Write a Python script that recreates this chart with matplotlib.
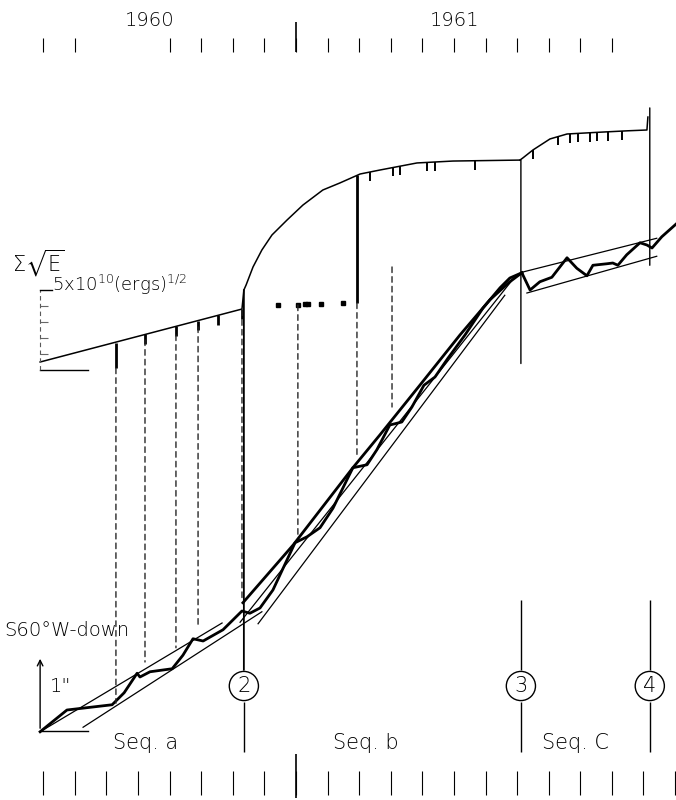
import numpy as np
import matplotlib.pyplot as plt
from matplotlib.patches import ConnectionPatch

# time axis: months counted from 1 Jan 1960
# energy axis: cumulative sqrt(E) in units of 1e10 (ergs)^1/2
# tilt axis: S60W-down tilt in seconds of arc

energy_ab_t = [3.90, 10.29, 10.35, 10.42, 10.64, 10.92, 11.24, 11.72, 12.22,
               12.85, 13.39, 14.03, 14.66, 15.83, 16.97, 19.09]
energy_ab_e = [0.50, 3.81, 5.00, 5.31, 6.44, 7.50, 8.44, 9.38, 10.31,
               11.25, 11.69, 12.25, 12.50, 12.94, 13.06, 13.12]

energy_c_t = [19.09, 19.18, 19.50, 20.04, 20.58, 21.50, 22.50, 23.11, 23.14]
energy_c_e = [13.12, 13.25, 13.75, 14.44, 14.75, 14.85, 14.95, 15.00, 15.81]

# small event marks hanging under the energy curve
events_a_t = [7.22, 8.20, 8.90, 9.53, 10.29]
events_bc_t = [14.34, 15.07, 15.29, 16.15, 16.40, 17.66,
               19.50, 20.29, 20.67, 20.92, 21.30, 21.53, 21.87, 22.32]

# big single event in seq a and seq b
big_a_t, big_a_e = 6.30, [0.12, 1.69]
big_b_t, big_b_e = 13.93, [4.19, 12.19]

# scattered events of seq b plotted at low level
dots_b_t = [11.43, 12.06, 12.28, 12.38, 12.79, 13.49]
dots_b_e = [4.06, 4.06, 4.10, 4.10, 4.12, 4.18]

# tilt record
tilt_ab_t = [3.90, 4.75, 6.18, 6.56, 6.97, 7.06, 7.38, 8.08, 8.42, 8.74, 9.06,
             9.69, 10.29, 10.54, 10.86, 11.27, 11.97, 12.35, 12.76, 13.17,
             13.80, 14.25, 14.56, 14.97, 15.35, 15.67, 16.05, 16.40, 16.81,
             17.35, 17.92, 18.46, 18.77, 19.15]
tilt_ab_v = [-0.01, 0.28, 0.35, 0.51, 0.77, 0.72, 0.79, 0.83, 1.01, 1.23, 1.20,
             1.35, 1.60, 1.57, 1.64, 1.88, 2.51, 2.59, 2.71, 2.97,
             3.51, 3.55, 3.75, 4.08, 4.12, 4.32, 4.61, 4.72, 4.97,
             5.28, 5.64, 5.91, 6.04, 6.11]

tilt_c_t = [19.15, 19.41, 19.72, 20.10, 20.58, 20.89, 21.21, 21.40, 21.84,
            22.03, 22.19, 22.47, 22.89, 23.11, 23.27, 23.58, 24.06]
tilt_c_v = [6.11, 5.88, 5.99, 6.05, 6.31, 6.17, 6.07, 6.21, 6.23,
            6.24, 6.21, 6.35, 6.51, 6.48, 6.44, 6.59, 6.77]

smooth_b_t = [10.32, 11.91, 13.80, 14.66, 15.92, 17.19, 18.14, 18.77, 19.15]
smooth_b_v = [1.71, 2.48, 3.51, 3.95, 4.61, 5.28, 5.75, 5.99, 6.11]

# fitted straight trends (start, end)
trend_t = [(3.90, 9.66), (5.26, 10.92), (10.23, 18.84), (10.80, 18.61),
           (19.18, 23.42), (19.31, 23.42)]
trend_v = [(-0.01, 1.44), (0.05, 1.59), (1.45, 6.01), (1.43, 5.81),
           (6.12, 6.57), (5.84, 6.33)]

# dashed links energy event -> tilt
link_t = [6.30, 7.22, 8.20, 8.90, 10.29, 12.06, 13.93, 15.04]
link_e = [0.12, 1.88, 2.19, 2.69, 3.75, 4.06, 4.19, 6.44]
link_v = [0.37, 0.92, 1.11, 1.39, 1.75, 2.59, 3.65, 4.32]

# sequence boundaries
marker_t = [10.35, 19.12, 23.20]
marker_lbl = ["2", "3", "4"]
seq_t = [7.25, 14.20, 20.85]
seq_lbl = ["Seq. a", "Seq. b", "Seq. C"]

month_ticks = list(range(4, 25))
top_ticks = [4, 5, 8, 9, 10, 11, 12, 13, 14, 15, 16, 17, 18, 19, 20, 21, 22]
year_t = [7.38, 17.03]
year_lbl = ["1960", "1961"]

plt.rcParams["font.family"] = "DejaVu Sans"
plt.rcParams["font.weight"] = "light"
plt.rcParams["mathtext.default"] = "regular"
fig = plt.figure(figsize=(6.76, 8), dpi=100)
ax = fig.add_axes([0, 0, 1, 1])
axt = ax.twinx()
for a in (ax, axt):
    a.set_xlim(2.63, 24.03)
    a.axis("off")
ax.set_ylim(-26.875, 23.125)
axt.set_ylim(-0.92, 9.747)
xt = ax.get_xaxis_transform()


def link(t, y0, tr0, y1, tr1, **kw):
    con = ConnectionPatch(xyA=(t, y0), coordsA=tr0, xyB=(t, y1), coordsB=tr1,
                          arrowstyle="-", shrinkA=0, shrinkB=0, **kw)
    fig.add_artist(con)


# energy curves
ax.plot(energy_ab_t, energy_ab_e, color="k", lw=1.1)
ax.plot(energy_c_t, energy_c_e, color="k", lw=1.1)
for t in events_a_t:
    e = np.interp(t, energy_ab_t, energy_ab_e)
    ax.vlines(t, e - 0.6, e, color="k", lw=2)
for t in events_bc_t:
    if t < energy_c_t[0]:
        e = np.interp(t, energy_ab_t, energy_ab_e)
    else:
        e = np.interp(t, energy_c_t, energy_c_e)
    ax.vlines(t, e - 0.55, e, color="k", lw=1.4)
ax.vlines(big_a_t, *big_a_e, color="k", lw=2)
ax.vlines(big_b_t, *big_b_e, color="k", lw=2)
ax.plot(dots_b_t, dots_b_e, "s", color="k", ms=2.2)

# energy scale bar
ax.plot([3.90, 5.42], [0, 0], color="k", lw=1)
ax.plot([3.90, 3.90], [0, 5], color="0.35", lw=0.8, ls=(0, (4, 3)))
ax.plot([3.90, 4.28], [5, 5], color="k", lw=1)
ax.hlines([1, 2, 3, 4], 3.90, 4.15, color="0.4", lw=0.8)

# tilt records
axt.plot(tilt_ab_t, tilt_ab_v, color="k", lw=2)
axt.plot(tilt_c_t, tilt_c_v, color="k", lw=2)
axt.plot(smooth_b_t, smooth_b_v, color="k", lw=2)
for (t0, t1), (v0, v1) in zip(trend_t, trend_v):
    axt.plot([t0, t1], [v0, v1], color="k", lw=0.9)

# tilt scale
axt.annotate("", xy=(3.90, 1.0), xytext=(3.90, 0),
             arrowprops=dict(arrowstyle="->", lw=1, color="k"))
axt.plot([3.90, 5.42], [0, 0], color="k", lw=1)

# links
for t, e, v in zip(link_t, link_e, link_v):
    link(t, e, ax.transData, v, axt.transData, color="0.15", lw=1.0,
         linestyle=(0, (4, 3)))

# boundary markers
link(marker_t[0], 5.0, ax.transData, 0.1625, xt, color="k", lw=1.3)
link(marker_t[1], 13.12, ax.transData, 4.9, axt.transData, color="k", lw=1)
link(marker_t[2], 16.38, ax.transData, 6.21, axt.transData, color="k", lw=1)
ax.vlines(marker_t[1:], 0.25, 0.1625, transform=xt, color="k", lw=1)
ax.vlines(marker_t, 0.1225, 0.06, transform=xt, color="k", lw=1)
for t, s in zip(marker_t, marker_lbl):
    ax.text(t, 0.1425, s, transform=xt, ha="center", va="center", fontsize=15,
            bbox=dict(boxstyle="circle,pad=0.22", fc="white", ec="k", lw=1))
for t, s in zip(seq_t, seq_lbl):
    ax.text(t, 0.071, s, transform=xt, ha="center", va="center", fontsize=15)

# time scales
ax.vlines(month_ticks, 0.006, 0.036, transform=xt, color="k", lw=0.8)
ax.vlines(12, 0.003, 0.058, transform=xt, color="k", lw=1.2)
ax.vlines(top_ticks, 0.935, 0.953, transform=xt, color="k", lw=0.8)
ax.vlines(12, 0.935, 0.973, transform=xt, color="k", lw=1.2)
for t, s in zip(year_t, year_lbl):
    ax.text(t, 0.975, s, transform=xt, ha="center", va="center", fontsize=14)

# labels
fig.text(12 / 676, 1 - 263 / 800, r"$\Sigma\sqrt{E}$", fontsize=15, va="center")
fig.text(52 / 676, 1 - 285 / 800, r"5x10$^{10}$(ergs)$^{1/2}$", fontsize=13,
         va="center")
fig.text(4 / 676, 1 - 630 / 800, "S60\u00b0W-down", fontsize=14, va="center")
fig.text(50 / 676, 1 - 687 / 800, '1"', fontsize=14, va="center")

fig.savefig("out.png", dpi=100, facecolor="white")
